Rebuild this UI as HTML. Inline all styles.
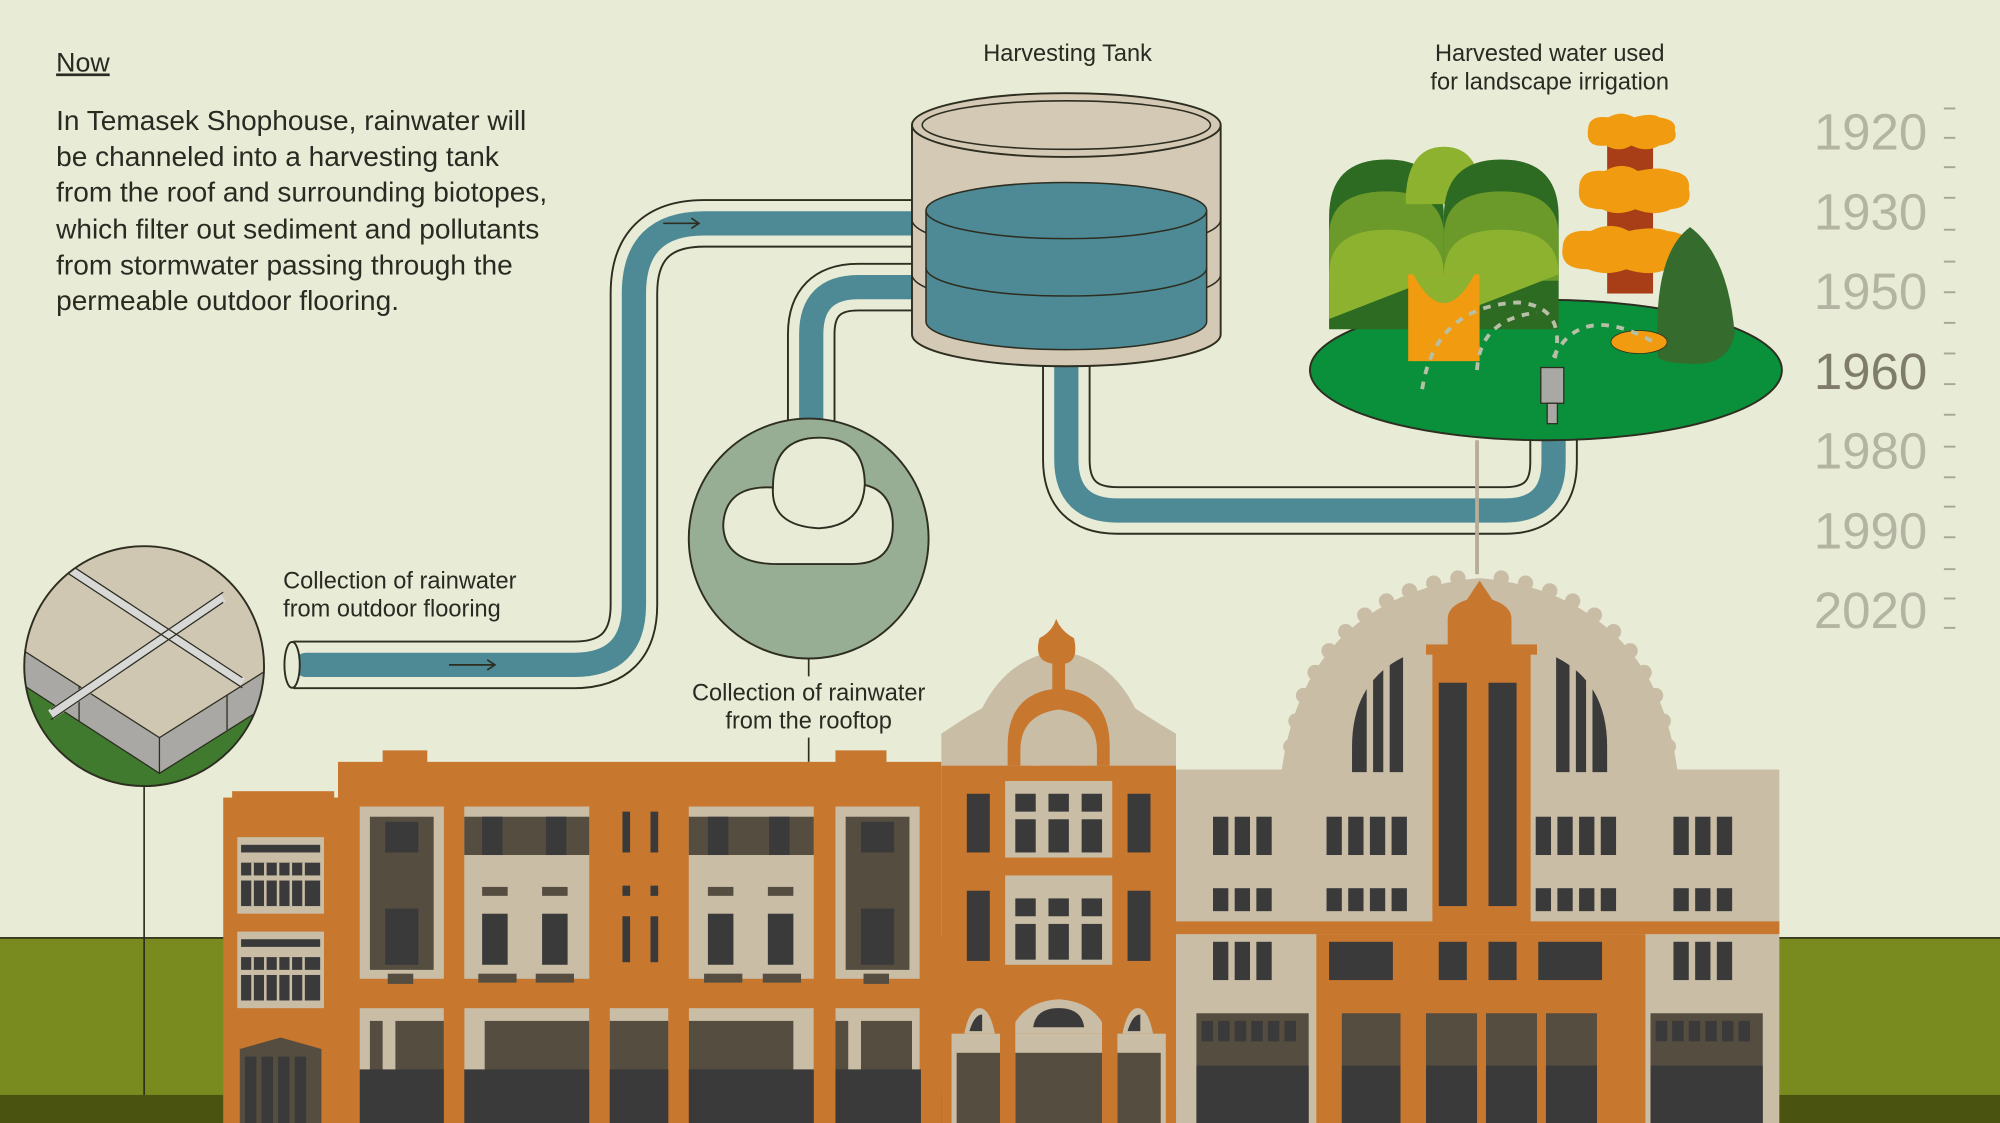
<!DOCTYPE html>
<html><head><meta charset="utf-8"><style>
html,body{margin:0;padding:0;background:#e8ebd6;}
svg{display:block;}
text{font-family:"Liberation Sans",sans-serif;}
</style></head><body>
<svg width="2000" height="1123" viewBox="0 0 1568 880" preserveAspectRatio="none" xmlns="http://www.w3.org/2000/svg">
<rect width="1568" height="880" fill="#e8ebd6"/>
<rect x="0" y="735" width="1568" height="125" fill="#798b1f"/>
<line x1="0" y1="735" x2="1568" y2="735" stroke="#3a3a20" stroke-width="1.5"/>
<rect x="0" y="858" width="1568" height="22" fill="#4a5410"/>

<text x="44" y="56" font-size="21" fill="#2a2a22" text-decoration="underline">Now</text>
<g font-size="22" fill="#2a2a22">
<text x="44" y="102">In Temasek Shophouse, rainwater will</text>
<text x="44" y="130">be channeled into a harvesting tank</text>
<text x="44" y="158">from the roof and surrounding biotopes,</text>
<text x="44" y="187">which filter out sediment and pollutants</text>
<text x="44" y="215">from stormwater passing through the</text>
<text x="44" y="243">permeable outdoor flooring.</text>
</g>
<g font-size="18.5" fill="#2a2a22" text-anchor="middle">
<text x="837" y="48">Harvesting Tank</text>
<text x="1215" y="48">Harvested water used</text>
<text x="1215" y="70">for landscape irrigation</text>
<text x="634" y="549">Collection of rainwater</text>
<text x="634" y="571">from the rooftop</text>
</g>
<g font-size="18.5" fill="#2a2a22">
<text x="222" y="461">Collection of rainwater</text>
<text x="222" y="483">from outdoor flooring</text>
</g>

<g font-size="40" fill="#b3b5a2" text-anchor="end">
<text x="1511" y="117">1920</text>
<text x="1511" y="180">1930</text>
<text x="1511" y="242">1950</text>
<text x="1511" y="305" fill="#7f7c6c">1960</text>
<text x="1511" y="367">1980</text>
<text x="1511" y="430">1990</text>
<text x="1511" y="492">2020</text>
</g>
<g stroke="#a5a895" stroke-width="1.5">
<line x1="1524" y1="85" x2="1533" y2="85"/><line x1="1524" y1="108" x2="1533" y2="108"/><line x1="1524" y1="131" x2="1533" y2="131"/>
<line x1="1524" y1="155" x2="1533" y2="155"/><line x1="1524" y1="180" x2="1533" y2="180"/><line x1="1524" y1="205" x2="1533" y2="205"/>
<line x1="1524" y1="229" x2="1533" y2="229"/><line x1="1524" y1="253" x2="1533" y2="253"/><line x1="1524" y1="277" x2="1533" y2="277"/>
<line x1="1524" y1="301" x2="1533" y2="301"/><line x1="1524" y1="325" x2="1533" y2="325"/><line x1="1524" y1="350" x2="1533" y2="350"/>
<line x1="1524" y1="374" x2="1533" y2="374"/><line x1="1524" y1="397" x2="1533" y2="397"/><line x1="1524" y1="421" x2="1533" y2="421"/>
<line x1="1524" y1="446" x2="1533" y2="446"/><line x1="1524" y1="469" x2="1533" y2="469"/><line x1="1524" y1="492" x2="1533" y2="492"/>
</g>

<g fill="none" stroke-linecap="butt">
<path d="M230 521 H450 Q497 521 497 474 V230 Q497 175 552 175 H720" stroke="#2d2d20" stroke-width="38"/>
<path d="M230 521 H450 Q497 521 497 474 V230 Q497 175 552 175 H720" stroke="#e8ebd6" stroke-width="35"/>
<path d="M240 521 H450 Q497 521 497 474 V230 Q497 175 552 175 H720" stroke="#4e8a95" stroke-width="19" stroke-linecap="round"/>
<path d="M636 340 V262 Q636 225 673 225 H720" stroke="#2d2d20" stroke-width="38"/>
<path d="M636 340 V262 Q636 225 673 225 H720" stroke="#e8ebd6" stroke-width="35"/>
<path d="M636 340 V262 Q636 225 673 225 H720" stroke="#4e8a95" stroke-width="19"/>
<path d="M836 270 V360 Q836 400 876 400 H1180 Q1218 400 1218 362 V330" stroke="#2d2d20" stroke-width="38"/>
<path d="M836 270 V360 Q836 400 876 400 H1180 Q1218 400 1218 362 V330" stroke="#e8ebd6" stroke-width="35"/>
<path d="M836 270 V360 Q836 400 876 400 H1180 Q1218 400 1218 362 V330" stroke="#4e8a95" stroke-width="19"/>
</g>
<ellipse cx="229" cy="521" rx="6" ry="18" fill="#e8ebd6" stroke="#2d2d20" stroke-width="1.5"/>
<path d="M352 521 H388 M382 517 L388 521 L382 525" stroke="#2d2d20" stroke-width="1.3" fill="none"/>
<path d="M520 175 H548 M542 171 L548 175 L542 179" stroke="#2d2d20" stroke-width="1.3" fill="none"/>

<path d="M715 98 V262 A121 25 0 0 0 957 262 V98" fill="#d3c9b5" stroke="#2d2d20" stroke-width="1.5"/>
<ellipse cx="836" cy="98" rx="121" ry="25" fill="#d3c9b5" stroke="#2d2d20" stroke-width="1.5"/>
<ellipse cx="836" cy="98" rx="113" ry="19" fill="#d3c9b5" stroke="#2d2d20" stroke-width="1.2"/>
<path d="M715 172 A121 25 0 0 0 957 172" fill="none" stroke="#2d2d20" stroke-width="1.2"/>
<path d="M715 215 A121 25 0 0 0 957 215" fill="none" stroke="#2d2d20" stroke-width="1.2"/>
<path d="M726 165 V252 A110 22 0 0 0 946 252 V165" fill="#4e8a95" stroke="#2d2d20" stroke-width="1.2"/>
<ellipse cx="836" cy="165" rx="110" ry="22" fill="#4e8a95" stroke="#2d2d20" stroke-width="1.2"/>
<path d="M726 210 A110 22 0 0 0 946 210" fill="none" stroke="#2d2d20" stroke-width="1.2"/>

<line x1="634" y1="516" x2="634" y2="530" stroke="#2d2d20" stroke-width="1.3"/>
<line x1="634" y1="578" x2="634" y2="597" stroke="#2d2d20" stroke-width="1.3"/>
<circle cx="634" cy="422" r="94" fill="#97ae95" stroke="#2d2d20" stroke-width="1.5"/>
<path d="M610 442 Q568 442 567 412 Q568 380 606 382 Q606 343 642 343 Q678 343 678 380 Q700 385 700 412 Q700 442 668 442 Z" fill="#e8ebd6" stroke="#2d2d20" stroke-width="1.5"/>
<path d="M606 382 Q604 412 642 414 Q676 412 678 380" fill="none" stroke="#2d2d20" stroke-width="1.5"/>

<line x1="113" y1="616" x2="113" y2="858" stroke="#2d2d20" stroke-width="1.3"/>
<clipPath id="fc"><circle cx="113" cy="522" r="94"/></clipPath>
<g clip-path="url(#fc)">
<rect x="0" y="420" width="230" height="210" fill="#3f7a2e"/>
<path d="M0 420 H230 V520 L125 586 L0 505 Z" fill="#cfc7b2"/>
<path d="M0 498 L125 578 L230 512 V540 L125 606 L0 525 Z" fill="#a9a8a4" stroke="#2d2d20" stroke-width="1"/>
<line x1="125" y1="578" x2="125" y2="606" stroke="#2d2d20"/>
<line x1="62" y1="538" x2="62" y2="565" stroke="#2d2d20"/>
<line x1="178" y1="545" x2="178" y2="572" stroke="#2d2d20"/>
<path d="M30 430 L190 535 M40 560 L175 468" stroke="#d8d8d6" stroke-width="8"/>
<path d="M30 426 L190 531 M30 434 L190 539 M40 556 L175 464 M40 564 L175 472" stroke="#2d2d20" stroke-width="1"/>
</g>
<circle cx="113" cy="522" r="94" fill="none" stroke="#2d2d20" stroke-width="1.5"/>

<line x1="1158" y1="345" x2="1158" y2="450" stroke="#b7ad98" stroke-width="3"/>
<ellipse cx="1212" cy="290" rx="185" ry="55" fill="#0a8f3a" stroke="#2d2d20" stroke-width="1.5"/>
<path d="M1042 258 V170 Q1042 125 1087 125 Q1132 125 1132 170 V258 Z" fill="#2d6b22"/>
<path d="M1042 220 V185 Q1042 150 1087 150 Q1132 150 1132 185 V220 Z" fill="#6b9a2b"/>
<path d="M1042 250 V215 Q1042 180 1087 180 Q1132 180 1132 215 Z" fill="#8db22f"/>
<path d="M1102 160 Q1102 115 1132 115 Q1162 115 1162 160 Z" fill="#8db22f"/>
<path d="M1132 258 V170 Q1132 125 1177 125 Q1222 125 1222 170 V258 Z" fill="#2d6b22"/>
<path d="M1132 220 V185 Q1132 150 1177 150 Q1222 150 1222 185 V220 Z" fill="#6b9a2b"/>
<path d="M1132 250 V215 Q1132 180 1177 180 Q1222 180 1222 215 Z" fill="#8db22f"/>
<rect x="1104" y="215" width="56" height="68" fill="#f09b10"/>
<path d="M1108 215 Q1132 260 1156 215" fill="#8db22f"/>
<rect x="1260" y="105" width="36" height="125" fill="#a83e17"/>
<g fill="#f09b10">
<path d="M1245 102 q0-12 16-10 q10-6 20 0 q14-4 20 0 q14 2 12 10 q4 10-12 12 q-10 6-22 0 q-10 6-20 0 q-16 2-14-12z"/>
<path d="M1238 148 q0-16 20-14 q14-8 26 0 q18-4 26 0 q16 2 14 14 q4 14-14 16 q-12 6-28 0 q-14 6-26 0 q-20 0-18-16z"/>
<path d="M1225 195 q0-16 22-14 q16-8 30 0 q20-4 30 0 q20 2 16 14 q4 14-16 16 q-14 6-32 0 q-16 6-30 0 q-22 0-20-16z"/>
</g>
<path d="M1300 280 Q1295 200 1325 178 Q1355 200 1360 262 Q1355 285 1330 285 Q1305 285 1300 280z" fill="#356b2c"/>
<ellipse cx="1285" cy="268" rx="22" ry="9" fill="#f09b10" stroke="#2d2d20" stroke-width="0.6"/>
<path d="M1115 305 Q1125 240 1190 237 Q1230 240 1218 285 M1158 290 Q1160 250 1205 245 M1218 280 Q1240 235 1300 270" fill="none" stroke="#b7bfa6" stroke-width="3" stroke-dasharray="6 6"/>
<rect x="1208" y="288" width="18" height="28" fill="#a9a8a4" stroke="#2d2d20" stroke-width="1"/>
<rect x="1213" y="316" width="8" height="16" fill="#a9a8a4" stroke="#2d2d20" stroke-width="1"/>

<rect x="175" y="625" width="92" height="255" fill="#c8772e"/>
<rect x="182" y="620" width="80" height="10" fill="#c8772e"/>
<g fill="#c9bda6"><rect x="186" y="656" width="68" height="60"/><rect x="186" y="730" width="68" height="60"/></g>
<g fill="#3a3a3a">
<rect x="189" y="662" width="62" height="6"/><rect x="189" y="676" width="62" height="10"/><rect x="189" y="690" width="62" height="20"/>
<rect x="189" y="736" width="62" height="6"/><rect x="189" y="750" width="62" height="10"/><rect x="189" y="764" width="62" height="20"/>
</g>
<g stroke="#c9bda6" stroke-width="2">
<line x1="198" y1="676" x2="198" y2="710"/><line x1="208" y1="676" x2="208" y2="710"/><line x1="218" y1="676" x2="218" y2="710"/><line x1="228" y1="676" x2="228" y2="710"/><line x1="238" y1="676" x2="238" y2="710"/>
<line x1="198" y1="750" x2="198" y2="784"/><line x1="208" y1="750" x2="208" y2="784"/><line x1="218" y1="750" x2="218" y2="784"/><line x1="228" y1="750" x2="228" y2="784"/><line x1="238" y1="750" x2="238" y2="784"/>
</g>
<path d="M188 822 L220 813 L252 822 V880 H188Z" fill="#554d40"/>
<g fill="#3a3a3a"><rect x="192" y="828" width="9" height="52"/><rect x="205" y="828" width="9" height="52"/><rect x="218" y="828" width="9" height="52"/><rect x="231" y="828" width="9" height="52"/></g>

<rect x="265" y="597" width="473" height="283" fill="#c8772e"/>
<rect x="300" y="588" width="35" height="12" fill="#c8772e"/>
<rect x="655" y="588" width="40" height="12" fill="#c8772e"/>
<g fill="#c9bda6">
<rect x="282" y="632" width="66" height="135"/><rect x="364" y="632" width="98" height="135"/>
<rect x="540" y="632" width="98" height="135"/><rect x="655" y="632" width="66" height="135"/>
</g>
<g fill="#554d40">
<rect x="290" y="640" width="50" height="120"/><rect x="663" y="640" width="50" height="120"/>
<rect x="364" y="640" width="98" height="30"/><rect x="540" y="640" width="98" height="30"/>
</g>
<g fill="#3a3a3a">
<rect x="378" y="640" width="16" height="30"/><rect x="428" y="640" width="16" height="30"/>
<rect x="555" y="640" width="16" height="30"/><rect x="603" y="640" width="16" height="30"/>
<rect x="378" y="716" width="20" height="40"/><rect x="425" y="716" width="20" height="40"/>
<rect x="555" y="716" width="20" height="40"/><rect x="602" y="716" width="20" height="40"/>
<rect x="302" y="644" width="26" height="24"/><rect x="675" y="644" width="26" height="24"/>
<rect x="302" y="712" width="26" height="44"/><rect x="675" y="712" width="26" height="44"/>
<rect x="488" y="636" width="6" height="32"/><rect x="510" y="636" width="6" height="32"/>
<rect x="488" y="718" width="6" height="36"/><rect x="510" y="718" width="6" height="36"/>
<rect x="488" y="694" width="6" height="8"/><rect x="510" y="694" width="6" height="8"/>
</g>
<g fill="#554d40">
<rect x="378" y="695" width="20" height="7"/><rect x="425" y="695" width="20" height="7"/>
<rect x="555" y="695" width="20" height="7"/><rect x="602" y="695" width="20" height="7"/>
<rect x="304" y="672" width="20" height="8"/><rect x="677" y="672" width="20" height="8"/>
<rect x="304" y="763" width="20" height="8"/><rect x="677" y="763" width="20" height="8"/>
<rect x="375" y="763" width="30" height="7"/><rect x="420" y="763" width="30" height="7"/>
<rect x="552" y="763" width="30" height="7"/><rect x="598" y="763" width="30" height="7"/>
</g>
<g fill="#c9bda6">
<rect x="282" y="790" width="66" height="90"/><rect x="364" y="790" width="98" height="90"/><rect x="478" y="790" width="46" height="90"/>
<rect x="540" y="790" width="98" height="90"/><rect x="655" y="790" width="66" height="90"/>
</g>
<g fill="#554d40">
<rect x="290" y="800" width="10" height="80"/><rect x="310" y="800" width="38" height="80"/>
<rect x="380" y="800" width="82" height="80"/><rect x="478" y="800" width="46" height="80"/>
<rect x="540" y="800" width="82" height="80"/><rect x="655" y="800" width="10" height="80"/><rect x="675" y="800" width="40" height="80"/>
</g>
<g fill="#3a3a3a"><rect x="282" y="838" width="440" height="42"/></g>
<g fill="#c8772e"><rect x="348" y="790" width="16" height="90"/><rect x="462" y="790" width="16" height="90"/><rect x="524" y="790" width="16" height="90"/><rect x="638" y="790" width="17" height="90"/></g>

<path d="M738 603 V575 Q760 560 770 555 Q790 515 830 510 Q870 515 890 555 Q905 565 922 575 V603Z" fill="#c9bda6"/>
<rect x="738" y="600" width="184" height="280" fill="#c8772e"/>
<path d="M790 600 V585 Q790 545 825 540 V520 Q810 518 815 500 Q825 495 828 485 Q832 495 842 500 Q846 518 835 520 V540 Q870 545 870 585 V600 H860 V588 Q860 560 830 556 Q800 560 800 588 V600Z" fill="#c8772e"/>
<path d="M808 600 V588 Q808 575 818 572 V600Z M842 600 V572 Q852 575 852 588 V600Z" fill="#c9bda6"/>
<g fill="#c9bda6"><rect x="788" y="612" width="84" height="60"/><rect x="788" y="686" width="84" height="70"/></g>
<g fill="#3a3a3a">
<rect x="796" y="622" width="16" height="14"/><rect x="822" y="622" width="16" height="14"/><rect x="848" y="622" width="16" height="14"/>
<rect x="796" y="642" width="16" height="26"/><rect x="822" y="642" width="16" height="26"/><rect x="848" y="642" width="16" height="26"/>
<rect x="796" y="704" width="16" height="14"/><rect x="822" y="704" width="16" height="14"/><rect x="848" y="704" width="16" height="14"/>
<rect x="796" y="724" width="16" height="28"/><rect x="822" y="724" width="16" height="28"/><rect x="848" y="724" width="16" height="28"/>
<rect x="758" y="622" width="18" height="46"/><rect x="884" y="622" width="18" height="46"/>
<rect x="758" y="698" width="18" height="55"/><rect x="884" y="698" width="18" height="55"/>
</g>
<g fill="#c9bda6"><rect x="746" y="810" width="168" height="70"/></g>
<path d="M792 810 Q800 785 830 783 Q860 785 868 810Z" fill="#c9bda6"/>
<path d="M756 810 Q760 790 768 790 Q776 790 780 810Z M880 810 Q884 790 892 790 Q900 790 904 810Z" fill="#c9bda6"/>
<path d="M810 805 Q812 790 830 790 Q848 790 850 805Z M760 808 Q764 795 770 795 V808Z M884 808 Q888 795 894 795 V808Z" fill="#3a3a3a"/>
<g fill="#554d40"><rect x="750" y="825" width="34" height="55"/><rect x="796" y="825" width="68" height="55"/><rect x="876" y="825" width="34" height="55"/></g>
<g fill="#c8772e"><rect x="784" y="800" width="12" height="80"/><rect x="864" y="800" width="12" height="80"/></g>

<path d="M1005 603 Q1015 530 1060 492 Q1100 458 1160 453 Q1220 458 1260 492 Q1305 530 1315 603Z" fill="#c9bda6"/>
<g fill="#c9bda6">
<circle cx="1012" cy="585" r="6"/><circle cx="1016" cy="565" r="6"/><circle cx="1022" cy="545" r="6"/><circle cx="1031" cy="527" r="6"/><circle cx="1042" cy="510" r="6"/><circle cx="1055" cy="495" r="6"/><circle cx="1070" cy="482" r="6"/><circle cx="1087" cy="471" r="6"/><circle cx="1105" cy="463" r="6"/><circle cx="1124" cy="457" r="6"/><circle cx="1143" cy="453" r="6"/><circle cx="1177" cy="453" r="6"/><circle cx="1196" cy="457" r="6"/><circle cx="1215" cy="463" r="6"/><circle cx="1233" cy="471" r="6"/><circle cx="1250" cy="482" r="6"/><circle cx="1265" cy="495" r="6"/><circle cx="1278" cy="510" r="6"/><circle cx="1289" cy="527" r="6"/><circle cx="1298" cy="545" r="6"/><circle cx="1304" cy="565" r="6"/><circle cx="1308" cy="585" r="6"/>
</g>
<rect x="922" y="603" width="473" height="277" fill="#c9bda6"/>
<path d="M1060 605 V585 Q1060 535 1100 515 V605Z M1260 605 V585 Q1260 535 1220 515 V605Z" fill="#3a3a3a"/>
<g stroke="#c9bda6" stroke-width="5"><line x1="1074" y1="520" x2="1074" y2="606"/><line x1="1087" y1="510" x2="1087" y2="606"/><line x1="1246" y1="520" x2="1246" y2="606"/><line x1="1233" y1="510" x2="1233" y2="606"/></g>
<rect x="1123" y="510" width="77" height="220" fill="#c8772e"/>
<rect x="1118" y="505" width="87" height="8" fill="#c8772e"/>
<path d="M1135 505 V485 Q1135 475 1150 470 L1160 455 L1170 470 Q1185 475 1185 485 V505Z" fill="#c8772e"/>
<g fill="#3a3a3a"><rect x="1128" y="535" width="22" height="175"/><rect x="1167" y="535" width="22" height="175"/></g>
<rect x="922" y="722" width="473" height="10" fill="#c8772e"/>
<rect x="1032" y="732" width="258" height="148" fill="#c8772e"/>
<g fill="#3a3a3a">
<rect x="951" y="640" width="12" height="30"/><rect x="968" y="640" width="12" height="30"/><rect x="985" y="640" width="12" height="30"/>
<rect x="1040" y="640" width="12" height="30"/><rect x="1057" y="640" width="12" height="30"/><rect x="1074" y="640" width="12" height="30"/><rect x="1091" y="640" width="12" height="30"/>
<rect x="1204" y="640" width="12" height="30"/><rect x="1221" y="640" width="12" height="30"/><rect x="1238" y="640" width="12" height="30"/><rect x="1255" y="640" width="12" height="30"/>
<rect x="1312" y="640" width="12" height="30"/><rect x="1329" y="640" width="12" height="30"/><rect x="1346" y="640" width="12" height="30"/>
<rect x="951" y="696" width="12" height="18"/><rect x="968" y="696" width="12" height="18"/><rect x="985" y="696" width="12" height="18"/>
<rect x="1040" y="696" width="12" height="18"/><rect x="1057" y="696" width="12" height="18"/><rect x="1074" y="696" width="12" height="18"/><rect x="1091" y="696" width="12" height="18"/>
<rect x="1204" y="696" width="12" height="18"/><rect x="1221" y="696" width="12" height="18"/><rect x="1238" y="696" width="12" height="18"/><rect x="1255" y="696" width="12" height="18"/>
<rect x="1312" y="696" width="12" height="18"/><rect x="1329" y="696" width="12" height="18"/><rect x="1346" y="696" width="12" height="18"/>
<rect x="951" y="738" width="12" height="30"/><rect x="968" y="738" width="12" height="30"/><rect x="985" y="738" width="12" height="30"/>
<rect x="1312" y="738" width="12" height="30"/><rect x="1329" y="738" width="12" height="30"/><rect x="1346" y="738" width="12" height="30"/>
<rect x="1042" y="738" width="50" height="30"/><rect x="1128" y="738" width="22" height="30"/><rect x="1167" y="738" width="22" height="30"/><rect x="1206" y="738" width="50" height="30"/>
</g>
<g fill="#554d40"><rect x="938" y="794" width="88" height="86"/><rect x="1294" y="794" width="88" height="86"/>
<rect x="1052" y="794" width="46" height="86"/><rect x="1118" y="794" width="40" height="86"/><rect x="1165" y="794" width="40" height="86"/><rect x="1212" y="794" width="40" height="86"/></g>
<g fill="#3a3a3a"><rect x="938" y="835" width="88" height="45"/><rect x="1294" y="835" width="88" height="45"/><rect x="1052" y="835" width="200" height="45"/></g>
<g fill="#c8772e"><rect x="1098" y="794" width="20" height="86"/><rect x="1158" y="794" width="7" height="86"/><rect x="1205" y="794" width="7" height="86"/></g>
<g fill="#3a3a3a"><rect x="942" y="800" width="9" height="16"/><rect x="955" y="800" width="9" height="16"/><rect x="968" y="800" width="9" height="16"/><rect x="981" y="800" width="9" height="16"/><rect x="994" y="800" width="9" height="16"/><rect x="1007" y="800" width="9" height="16"/>
<rect x="1298" y="800" width="9" height="16"/><rect x="1311" y="800" width="9" height="16"/><rect x="1324" y="800" width="9" height="16"/><rect x="1337" y="800" width="9" height="16"/><rect x="1350" y="800" width="9" height="16"/><rect x="1363" y="800" width="9" height="16"/></g>
</svg>
</body></html>
